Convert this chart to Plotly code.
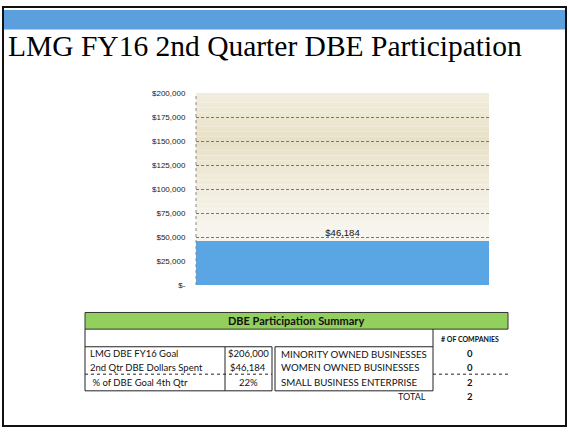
import plotly.graph_objects as go

W, H = 570, 435

# chart data
categories = ["2nd Qtr"]
spent = [46184]
spent_labels = ["$46,184"]
tick_vals = [0, 25000, 50000, 75000, 100000, 125000, 150000, 175000, 200000]
tick_text = ["$-", "$25,000", "$50,000", "$75,000", "$100,000", "$125,000",
             "$150,000", "$175,000", "$200,000"]

# summary table data
table_title = "DBE Participation Summary"
left_labels = ["LMG DBE FY16 Goal", "2nd Qtr DBE Dollars Spent", " % of DBE Goal 4th Qtr"]
left_values = ["$206,000", "$46,184", "22%"]
right_labels = ["MINORITY OWNED BUSINESSES", "WOMEN OWNED BUSINESSES", "SMALL BUSINESS ENTERPRISE"]
company_counts = ["0", "0", "2"]
total_count = "2"


def px_(x):
    return x / W


def py_(y):
    return 1 - y / H


fig = go.Figure()
fig.add_trace(go.Bar(
    x=categories, y=spent, text=spent_labels, textposition="outside",
    marker=dict(color="#5aa5e4", line=dict(width=0)),
    textfont=dict(family="Arial", size=9.5, color="#111"),
    cliponaxis=False, showlegend=False,
))

shapes = []
# beige gradient behind the plot
stops = [(0, (247, 245, 238)), (60000, (246, 244, 236)), (110000, (240, 235, 218)),
         (150000, (232, 224, 199)), (175000, (237, 231, 210)), (200000, (241, 237, 222))]
n = 40
for i in range(n):
    y0 = 200000 * i / n
    y1 = 200000 * (i + 1) / n
    ym = (y0 + y1) / 2
    for j in range(len(stops) - 1):
        if stops[j][0] <= ym <= stops[j + 1][0]:
            t = (ym - stops[j][0]) / (stops[j + 1][0] - stops[j][0])
            c = [round(a + (b - a) * t) for a, b in zip(stops[j][1], stops[j + 1][1])]
            break
    shapes.append(dict(type="rect", xref="x domain", yref="y", x0=0, x1=1, y0=y0, y1=y1,
                       fillcolor="rgb(%d,%d,%d)" % tuple(c), line=dict(width=0), layer="below"))
# dotted left axis
shapes.append(dict(type="line", xref="x domain", yref="y", x0=0, x1=0, y0=0, y1=200000,
                   line=dict(color="#888", width=1, dash="dot")))

# slide frame and blue band
shapes.append(dict(type="rect", xref="paper", yref="paper", x0=px_(3), x1=px_(566), y0=py_(3), y1=py_(431),
                   line=dict(color="#111", width=2)))
shapes.append(dict(type="rect", xref="paper", yref="paper", x0=px_(4), x1=px_(565), y0=py_(6), y1=py_(26),
                   fillcolor="#5b9fdc", line=dict(width=0)))


def line(x0, y0, x1, y1, dash="solid", width=1):
    shapes.append(dict(type="line", xref="paper", yref="paper", x0=px_(x0), y0=py_(y0),
                       x1=px_(x1), y1=py_(y1), line=dict(color="#222", width=width, dash=dash)))


# table outline
shapes.append(dict(type="rect", xref="paper", yref="paper", x0=px_(85), x1=px_(508), y0=py_(315), y1=py_(332),
                   fillcolor="#92cf5c", line=dict(color="#333", width=1)))
line(85, 332, 85, 395)
line(85, 350, 272, 350)
line(85, 395, 272, 395)
line(225, 350, 225, 395)
line(272, 350, 272, 395)
line(275, 350, 275, 395)
line(275, 350, 433, 350)
line(275, 395, 433, 395)
line(433, 332, 433, 395)
line(85, 378, 272, 378, dash="dot")
line(433, 378, 508, 378, dash="dot")

annotations = []
annotations.append(dict(text="LMG FY16 2nd Quarter DBE Participation", xref="paper", yref="paper",
                        x=px_(6), y=py_(43), xanchor="left", yanchor="middle", showarrow=False,
                        font=dict(family="Liberation Serif", size=29.5, color="#000")))


def txt(s, x, y, anchor="left", size=9.5, bold=False):
    annotations.append(dict(text="<b>%s</b>" % s if bold else s, xref="paper", yref="paper",
                            x=px_(x), y=py_(y), xanchor=anchor, yanchor="middle", showarrow=False,
                            font=dict(family="Lato", size=size, color="#111")))


txt(table_title, 296, 323, anchor="center", size=11, bold=True)
txt("# OF COMPANIES", 470, 342, anchor="center", size=7, bold=True)
row_y = [357, 371, 386]
for i in range(3):
    txt(left_labels[i], 88, row_y[i])
    txt(left_values[i], 248, row_y[i], anchor="center")
    txt(right_labels[i], 279, row_y[i], size=9.7)
    txt(company_counts[i], 470, row_y[i], anchor="center", bold=True)
txt("TOTAL", 428, 401, anchor="right", size=9)
txt(total_count, 470, 401, anchor="center", bold=True)

fig.update_layout(
    width=W, height=H, margin=dict(l=0, r=0, t=0, b=0),
    paper_bgcolor="white", plot_bgcolor="rgba(0,0,0,0)",
    bargap=0, shapes=shapes, annotations=annotations,
    xaxis=dict(domain=[px_(196), px_(489)], showticklabels=False, showgrid=False,
               showline=False, zeroline=False),
    yaxis=dict(domain=[py_(287), py_(91)], range=[0, 200000], tickvals=tick_vals,
               ticktext=tick_text, showgrid=True, gridcolor="#777", griddash="3px,2px",
               gridwidth=1, zeroline=False, ticks="outside", ticklen=8,
               tickcolor="rgba(0,0,0,0)", tickfont=dict(family="Arial", size=8, color="#222")),
)

fig.write_html("out.html", config={"displayModeBar": False},
               post_script="document.body.style.margin='0';")
